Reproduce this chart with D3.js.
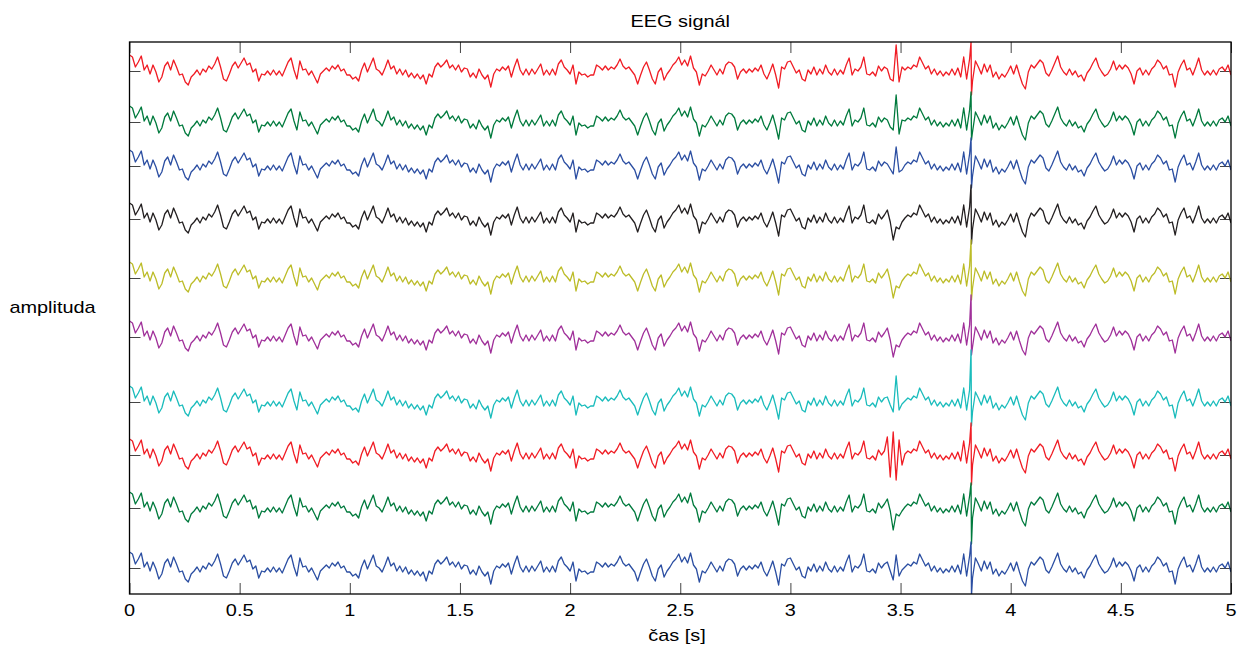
<!DOCTYPE html>
<html><head><meta charset="utf-8">
<script src="https://cdn.jsdelivr.net/npm/d3@7"></script>
<style>body{margin:0;background:#fff} text{font-family:"Liberation Sans",Arial,sans-serif;fill:#000}</style>
</head><body><svg id="c" width="1240" height="646"></svg>
<script>
// sampling of the read-off waveform (samples per second)
const fs = 75;
// common EEG waveform (µV deviation from each channel baseline)
const baseSignal = [
16,14,4,9,15,1,6,-3,6,-1,-11,-6,5,9,1,11,4,-4,-3,-11,-14,-6,-3,1,-4,2,-1,5,2,7,14,4,-8,-10,-3,5,9,3,8,13,6,8,-1,2,-10,-3,-4,0,-4,1,-4,0,-5,2,9,13,1,-8,10,1,2,-4,0,-6,-12,-3,0,3,0,5,2,6,0,2,-4,
-4,-8,-6,-10,1,8,-1,6,13,2,0,-4,3,11,2,5,-3,2,-4,1,-6,-2,-7,-3,-8,-4,-13,-3,-6,4,8,4,7,11,3,6,1,6,-1,3,2,-6,-2,-7,2,-4,-8,-4,-16,-3,2,0,4,1,5,-6,4,12,1,-4,2,-4,2,-3,2,7,-4,1,-4,2,-4,7,11,4,1,
-3,6,-13,-1,-4,-3,-6,-4,-4,6,4,1,5,1,4,2,6,12,5,2,4,0,-4,-13,-4,4,9,1,-8,-13,-1,3,-9,-3,1,6,9,14,6,11,5,15,3,-1,-14,-3,-5,0,6,1,-4,2,-3,6,9,8,4,-8,-1,2,-2,2,-1,3,0,6,-3,-8,-1,7,-4,-17,4,2,9,
10,4,-2,1,-8,-10,1,-3,4,-4,2,-3,6,-1,-4,2,-4,1,-3,6,13,-4,2,0,4,14,-3,-4,-1,-5,5,0,4,9,-3,-21,-8,-10,-3,1,4,2,6,4,14,8,2,5,-3,2,-4,0,-5,-1,-4,2,-4,3,-6,14,-8,12,-10,10,4,-3,7,-1,6,-6,-1,-8,-3,-6,-1,
5,-3,6,-4,-13,-18,-1,6,3,7,11,8,-2,-5,1,8,15,4,-1,-4,2,-4,0,-6,-4,-10,-2,2,8,13,4,-1,-5,-3,2,10,1,6,2,6,3,-3,-13,0,3,-4,1,-4,2,5,11,8,2,5,-4,-3,-16,-1,6,11,1,3,-4,4,13,1,-4,0,-4,1,-4,2,4,0,6,-4
];
const channelColors = ["#f01c24","#007a3d","#2b4ea2","#231f20","#bcbc28","#a0309a","#1abcbc","#f01c24","#007a3d","#2b4ea2"];
const channelOffsets = [523,472,428,375,316,257,192,139,86,26];
// sharp transient shared by all channels
const spikeTime = 3.82;
const spikeUp = [29,30,28,34,38,42,52,32,25,26];
const spikeDown = [24,18,22,25,22,18,24,30,36,28];
// channel-specific activity around 3.45 s (samples starting at burstStart)
const burstStart = 258;
const burstValues = [
  [2,-8,-10,26,-11,4],
  [2,-5,-8,27,-12,2],
  [2,-3,-8,19,-6,-4],
  [9,-3,-21,-8,-10,-3],
  [9,-3,-20,-8,-10,-3],
  [9,-3,-20,-8,-10,-3],
  [5,-3,-10,26,-8,-2],
  [18,-22,23,-25,15,-10],
  [9,-3,-22,-6,-8,-3],
  [6,-3,-12,13,-8,-2]
];
const xTicks = [0,0.5,1,1.5,2,2.5,3,3.5,4,4.5,5];
const xTickLabels = ["0","0.5","1","1.5","2","2.5","3","3.5","4","4.5","5"];
const xDomain = [0,5];
const yDomain = [0,552];
const titleText = "EEG signál";
const xLabelText = "čas [s]";
const yLabelText = "amplituda";

const svg = d3.select("#c");
const L = 129.5, R = 1231, T = 42, B = 594;
const x = d3.scaleLinear().domain(xDomain).range([L, R]);
const y = d3.scaleLinear().domain(yDomain).range([B, T]);
const sx = 1.17, fsz = 17;

svg.append("defs").append("clipPath").attr("id","clip")
  .append("rect").attr("x",L).attr("y",T).attr("width",R-L).attr("height",B-T);

// ticks (inward, on all four sides)
const tickLen = 11;
const gAx = svg.append("g");
function styleAxis(g){ g.select(".domain").remove(); g.selectAll("line").attr("stroke","#444").attr("stroke-width",1); g.selectAll("text").remove(); }
gAx.append("g").attr("transform",`translate(0,${B})`).call(d3.axisBottom(x).tickValues(xTicks).tickSizeInner(-tickLen).tickSizeOuter(0)).call(styleAxis);
gAx.append("g").attr("transform",`translate(0,${T})`).call(d3.axisTop(x).tickValues(xTicks).tickSizeInner(-tickLen).tickSizeOuter(0)).call(styleAxis);
gAx.append("g").attr("transform",`translate(${L},0)`).call(d3.axisLeft(y).tickValues(channelOffsets).tickSizeInner(-tickLen).tickSizeOuter(0)).call(styleAxis);
gAx.append("g").attr("transform",`translate(${R},0)`).call(d3.axisRight(y).tickValues(channelOffsets).tickSizeInner(-tickLen).tickSizeOuter(0)).call(styleAxis);

// build series
const series = channelOffsets.map((off, c) => {
  const vals = baseSignal.slice();
  burstValues[c].forEach((v,k) => { vals[burstStart+k] = v; });
  const pts = vals.map((v,i) => ({t: i/fs, v: off + v}));
  const idx = pts.findIndex(p => p.t > spikeTime);
  pts.splice(idx, 0, {t: spikeTime, v: off + spikeUp[c]}, {t: spikeTime + 0.002, v: off - spikeDown[c]});
  return pts;
});
const line = d3.line().x(d => x(d.t)).y(d => y(d.v));
svg.append("g").attr("clip-path","url(#clip)")
  .selectAll("path").data(series).join("path")
  .attr("d", line).attr("fill","none")
  .attr("stroke",(d,i)=>channelColors[i]).attr("stroke-width",1.3).attr("stroke-linejoin","round");

// frame
svg.append("rect").attr("x",L).attr("y",T).attr("width",R-L).attr("height",B-T)
  .attr("fill","none").attr("stroke","#000").attr("stroke-width",1.3);

function label(txt, cx, by){
  svg.append("g").attr("transform",`translate(${cx},${by}) scale(${sx},1)`)
    .append("text").attr("text-anchor","middle").attr("font-size",fsz).text(txt);
}
xTicks.forEach((t,i) => label(xTickLabels[i], x(t), 616));
label(titleText, (L+R)/2, 27);
label(xLabelText, 677, 641);
label(yLabelText, 52.5, 313);
</script></body></html>
